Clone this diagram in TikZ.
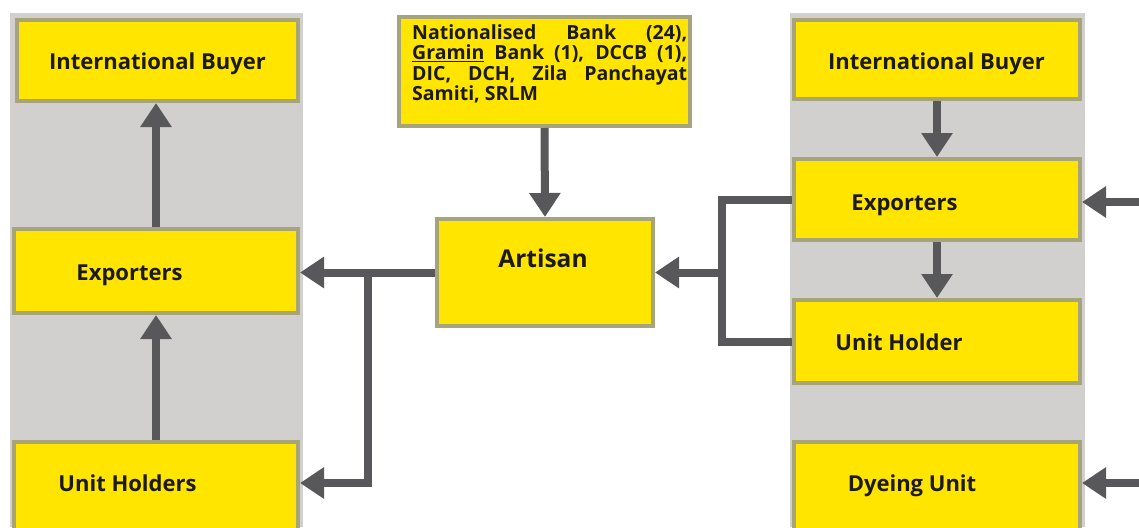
\documentclass[tikz,border=0pt]{standalone}
\usepackage{fontspec}
\setmainfont{Open Sans}
\usetikzlibrary{arrows.meta}
\definecolor{boxy}{HTML}{FFE500}
\definecolor{boxb}{HTML}{A8A47A}
\definecolor{bandg}{HTML}{D2CFCF}
\definecolor{arrg}{HTML}{58585A}
\definecolor{txt}{HTML}{1C1A12}
\tikzset{
  ybox/.style={draw=boxb, fill=boxy, line width=4pt, inner sep=0pt, rectangle},
  lbl/.style={anchor=base, inner sep=0pt, text=txt, font=\fontsize{22}{24}\selectfont\bfseries},
  conn/.style={draw=arrg, line width=8pt, line join=miter},
  arr/.style={conn, -{Triangle[width=30pt,length=24pt]}},
}
\begin{document}
\begin{tikzpicture}[x=1pt,y=-1pt]
\useasboundingbox (0,0) rectangle (1139,527);
% gray bands
\fill[bandg] (10,13) rectangle (303,527);
\fill[bandg] (790,13) rectangle (1085,527);
% left column
\node[ybox, minimum width=281pt, minimum height=81pt] (lib) at (157.5,60.5) {};
\node[ybox, minimum width=284pt, minimum height=84pt] (lexp) at (156,271) {};
\node[ybox, minimum width=284pt, minimum height=88pt] (luh) at (156,486) {};
\node[lbl] (libt) at (157.5,69) {International Buyer};
\node[lbl] (lexpt) at (129.5,280) {Exporters};
\node[lbl] (luht) at (127.5,491) {Unit Holders};
% middle
\node[ybox, minimum width=291pt, minimum height=109pt] (top) at (544.5,71.5) {};
\node[anchor=north west, inner sep=0pt, text=txt, align=left,
      font=\fontsize{19.5}{20.6}\selectfont\bfseries] (topt) at (412,24)
  {\makebox[275pt][s]{Nationalised Bank (24),}\\
   \makebox[275pt][s]{\underline{Gramin} Bank (1), DCCB (1),}\\
   \makebox[275pt][s]{DIC, DCH, Zila Panchayat}\\
   \makebox[275pt][l]{Samiti, SRLM}};
\node[ybox, minimum width=216pt, minimum height=107pt] (art) at (545,272.5) {};
\node[anchor=base, inner sep=0pt, text=txt, font=\fontsize{24.5}{30}\selectfont\bfseries] (artt) at (543,267) {Artisan};
% right column
\node[ybox, minimum width=286pt, minimum height=79pt] (rib) at (937,59.5) {};
\node[ybox, minimum width=286pt, minimum height=81pt] (rexp) at (937,199.5) {};
\node[ybox, minimum width=286pt, minimum height=83pt] (ruh) at (937,341.5) {};
\node[ybox, minimum width=286pt, minimum height=88pt] (rdy) at (937,486) {};
\node[lbl] (ribt) at (936.5,69) {International Buyer};
\node[lbl] (rexpt) at (904.5,210) {Exporters};
\node[lbl] (ruht) at (899,350) {Unit Holder};
\node[lbl] (rdyt) at (912,491) {Dyeing Unit};
% connectors left
\draw[arr] (lexp.north) -- (lexp.north |- lib.south);
\draw[arr] (luh.north) -- (luh.north |- lexp.south);
\coordinate (lj) at (368,272.5);
\draw[arr] (art.west) -- (art.west -| lexp.east);
\draw[arr] (lj) |- ([yshift=3pt]luh.east);
% middle
\draw[arr] (top.south) -- (art.north);
% right
\draw[arr] (rib.south) -- (rexp.north);
\draw[arr] (rexp.south) -- (ruh.north);
\coordinate (rj) at (722,272.5);
\draw[conn] (rexp.west) -| (rj) |- (ruh.west);
\draw[arr] (rj) -- (art.east);
\coordinate (re1) at (1139,202);
\coordinate (re2) at (1139,483);
\draw[arr] (re1) -- (re1 -| rexp.east);
\draw[arr] (re2) -- (re2 -| rdy.east);
\end{tikzpicture}
\end{document}
